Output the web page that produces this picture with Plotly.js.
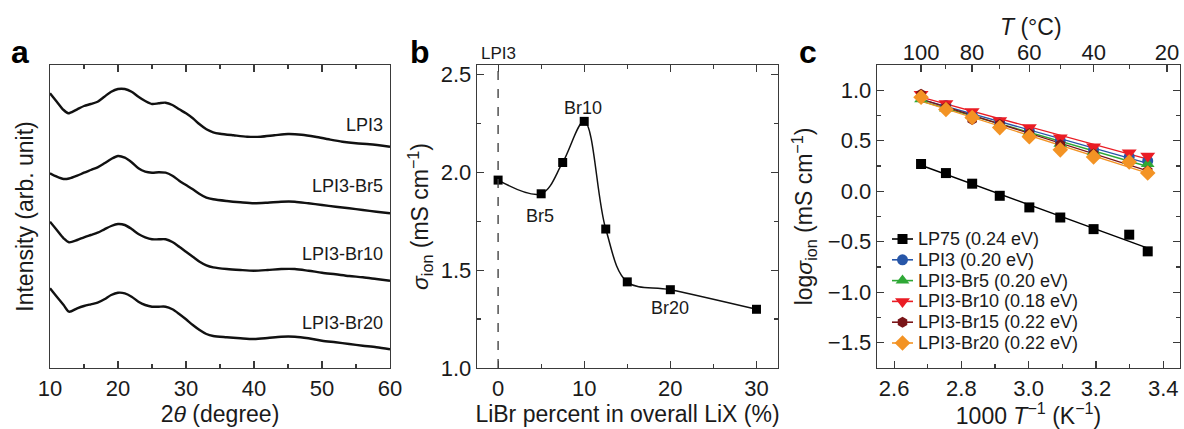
<!DOCTYPE html>
<html>
<head>
<meta charset="utf-8">
<script src="https://cdn.plot.ly/plotly-3.0.1.min.js"></script>
<style>html,body{margin:0;padding:0;background:#fff;}#chart{width:1184px;height:429px;}</style>
</head>
<body>
<div id="chart"></div>
<script>
// ---------- Panel a: XRD patterns (2θ in degree, intensity in arb. unit) ----------
const xrdAngleTop = [10,11,12,12.7,13,14,15,16,17,18,19,20,21,22,23,24,25,26,27,28,29,30,31,32,33,34,35,37,39,41,43,45,47,49,51,53,55,57,60];
const intLPI3 = [274.7,266.3,258,254.7,255.3,258.7,262,264,266.3,271.3,276.3,279,279,276.3,271.3,267,264,264.7,265.3,263,258.7,254.7,249.7,243.7,238.7,235.7,234.3,232.7,231.3,231.3,232.7,234,233.3,231.3,228.7,226.3,224.7,223.7,221.3];
const xrdAngle = [10,11,12,12.8,14,15,16,17,18,19,20,21,22,23,24,25,26,27,28,29,30,31,32,33,34,36,38,40,42,44,46,48,50,52,54,56,58,60];
const intBr5 = [194.7,191.3,189,189.5,192.3,195.3,198,200.7,204.7,209,212,210.3,205.7,199.7,196.3,195.3,195.7,195.3,192.3,187.3,183,178.7,174,170.3,168.7,167,165.7,164.7,165.3,166.3,166.3,164.7,163,161.3,159.7,158,156.3,154.7];
const intBr10 = [146.3,138,129.7,125.7,128,130.7,133,135.3,138.7,142,144,143,139,134,130.7,128.7,128.7,128.7,126,121.3,116.3,111.3,106.3,102.7,100.7,99,98,97.3,98,99,99,97.3,95.3,93.7,92,90.7,89,87.3];
const intBr20 = [79.7,71.3,63,56.3,59.7,62,63.7,65.3,68.7,73,75.3,74.7,71.3,66.3,63,61.3,61.3,61.3,58.7,54,48.7,43,38,34,32,30.7,29.7,29,30,31.3,31.3,29.7,27.3,25.7,24,22.3,20.7,18.7];
const xrdLabels = ["LPI3", "LPI3-Br5", "LPI3-Br10", "LPI3-Br20"];

// ---------- Panel b: conductivity vs LiBr fraction ----------
const librPercent = [0, 5, 7.5, 10, 12.5, 15, 20, 30];
const sigmaIon = [1.96, 1.89, 2.05, 2.26, 1.71, 1.44, 1.40, 1.30];

// ---------- Panel c: Arrhenius plot ----------
const invT = [2.680, 2.754, 2.832, 2.914, 3.002, 3.094, 3.193, 3.299, 3.354];
const logLP75 = [0.27, 0.18, 0.075, -0.045, -0.16, -0.26, -0.375, -0.43, -0.595];
const logLPI3 = [0.93, 0.85, 0.76, 0.68, 0.60, 0.50, 0.41, 0.34, 0.30];
const logBr5 = [0.91, 0.82, 0.75, 0.66, 0.58, 0.47, 0.39, 0.30, 0.27];
const logBr10 = [0.96, 0.87, 0.79, 0.70, 0.63, 0.53, 0.44, 0.38, 0.35];
const logBr15 = [0.96, 0.83, 0.71, 0.66, 0.57, 0.46, 0.37, 0.29, 0.20];
const logBr20 = [0.93, 0.81, 0.73, 0.63, 0.54, 0.41, 0.34, 0.29, 0.18];
const seriesNames = ["LP75 (0.24 eV)", "LPI3 (0.20 eV)", "LPI3-Br5 (0.20 eV)", "LPI3-Br10 (0.18 eV)", "LPI3-Br15 (0.22 eV)", "LPI3-Br20 (0.22 eV)"];
const topTempLabels = [100, 80, 60, 40, 20];
const topTempMinor = [90, 70, 50, 30];

const FONT = "Liberation Sans, Arial, Helvetica, sans-serif";
const AX = "#3a3a3a";
const TXT = "#1a1a1a";
const traces = [];

// panel a
[[xrdAngleTop, intLPI3], [xrdAngle, intBr5], [xrdAngle, intBr10], [xrdAngle, intBr20]].forEach(function (p) {
  traces.push({type: "scatter", mode: "lines", x: p[0], y: p[1], xaxis: "x", yaxis: "y",
    line: {color: "#111", width: 2.4, shape: "spline", smoothing: 0.8}, showlegend: false, hoverinfo: "skip"});
});

// panel b
traces.push({type: "scatter", mode: "lines+markers", x: librPercent, y: sigmaIon, xaxis: "x2", yaxis: "y2",
  line: {color: "#111", width: 1.5, shape: "spline", smoothing: 1}, marker: {symbol: "square", size: 9, color: "#000"},
  showlegend: false});

// panel c
const seriesY = [logLP75, logLPI3, logBr5, logBr10, logBr15, logBr20];
const colors = ["#000000", "#2756a8", "#2ea836", "#ea1c24", "#7a1518", "#f39324"];
const symbols = ["square", "circle", "triangle-up", "triangle-down", "hexagon", "diamond"];
const sizes = [10, 11, 12, 13, 11, 12];
function fit(xs, ys) {
  const n = xs.length;
  let sx = 0, sy = 0, sxx = 0, sxy = 0;
  for (let i = 0; i < n; i++) { sx += xs[i]; sy += ys[i]; sxx += xs[i] * xs[i]; sxy += xs[i] * ys[i]; }
  const b = (n * sxy - sx * sy) / (n * sxx - sx * sx);
  const a = (sy - b * sx) / n;
  return [a + b * xs[0], a + b * xs[n - 1]];
}
seriesY.forEach(function (ys, i) {
  const f = fit(invT, ys);
  traces.push({type: "scatter", mode: "lines", x: [invT[0], invT[invT.length - 1]], y: f, xaxis: "x3", yaxis: "y3",
    line: {color: colors[i], width: 1.4}, showlegend: false, hoverinfo: "skip"});
});
seriesY.forEach(function (ys, i) {
  traces.push({type: "scatter", mode: "markers", x: invT, y: ys, xaxis: "x3", yaxis: "y3",
    name: seriesNames[i], marker: {symbol: symbols[i], size: sizes[i], color: colors[i]},
    showlegend: false});
});
// top temperature axis anchor trace (invisible)
const tempToInv = function (t) { return 1000 / (t + 273.15); };
traces.push({type: "scatter", mode: "markers", x: [tempToInv(topTempLabels[0])], y: [logLP75[0]], xaxis: "x4", yaxis: "y3",
  marker: {opacity: 0}, showlegend: false, hoverinfo: "skip"});

// custom legend (glyphs on a pixel-scaled overlay axis)
const LEG = {x0: 892, x1: 913, xText: 916, yTop: 239, dy: 20.8};
const legendAnnots = [];
seriesNames.forEach(function (nm, i) {
  const yy = LEG.yTop + i * LEG.dy;
  traces.push({type: "scatter", mode: "lines", x: [LEG.x0, LEG.x1], y: [yy, yy], xaxis: "x5", yaxis: "y5",
    line: {color: colors[i], width: 1.6}, showlegend: false, hoverinfo: "skip"});
  traces.push({type: "scatter", mode: "markers", x: [(LEG.x0 + LEG.x1) / 2], y: [yy], xaxis: "x5", yaxis: "y5",
    marker: {symbol: symbols[i], size: sizes[i], color: colors[i]}, showlegend: false, hoverinfo: "skip"});
  legendAnnots.push({text: nm, xref: "x5", yref: "y5", x: LEG.xText, y: yy, xanchor: "left", yanchor: "middle",
    showarrow: false, font: {family: FONT, size: 18, color: TXT}});
});

const W = 1184, H = 429;
const yDom = [(H - 368) / H, (H - 65) / H];
const tickFont = {family: FONT, size: 22, color: TXT};
const titleFont = {family: FONT, size: 23, color: TXT};
function baseAxis(extra) {
  return Object.assign({showgrid: false, zeroline: false, showline: true, linecolor: AX, linewidth: 1.3,
    ticks: "inside", ticklen: 7, tickwidth: 1.2, tickcolor: AX, tickfont: tickFont, automargin: false}, extra);
}
function ann(text, xref, yref, x, y, size, extra) {
  return Object.assign({text: text, xref: xref, yref: yref, x: x, y: y, xanchor: "center", yanchor: "middle",
    showarrow: false, font: {family: FONT, size: size, color: TXT}}, extra || {});
}

const layout = {
  width: W, height: H,
  margin: {l: 0, r: 0, t: 0, b: 0},
  paper_bgcolor: "#fff", plot_bgcolor: "rgba(0,0,0,0)",
  font: {family: FONT, color: TXT},
  showlegend: false,
  xaxis: baseAxis({domain: [50 / W, 390 / W], range: [10, 60], anchor: "y", dtick: 10, tick0: 10, mirror: "ticks",
    minor: {dtick: 5, ticks: "inside", ticklen: 4, tickcolor: AX},
    title: {text: "2<i>θ</i> (degree)", font: titleFont, standoff: 4}}),
  yaxis: baseAxis({domain: yDom, range: [0, 303], anchor: "x", ticks: "", showticklabels: false, mirror: true,
    title: {text: "Intensity (arb. unit)", font: titleFont, standoff: 8}}),
  xaxis2: baseAxis({domain: [477 / W, 778 / W], range: [-2.45, 32.5], anchor: "y2", dtick: 10, tick0: 0, mirror: "ticks",
    minor: {dtick: 5, ticks: "inside", ticklen: 4, tickcolor: AX},
    title: {text: "LiBr percent in overall LiX (%)", font: titleFont, standoff: 4}}),
  yaxis2: baseAxis({domain: yDom, range: [1.0, 2.548], anchor: "x2", dtick: 0.5, tick0: 1, tickformat: ".1f", mirror: "ticks",
    minor: {dtick: 0.25, ticks: "inside", ticklen: 4, tickcolor: AX},
    title: {text: "<i>σ</i><sub>ion</sub> (mS cm<sup>−1</sup>)", font: titleFont, standoff: 5}}),
  xaxis3: baseAxis({domain: [877 / W, 1180 / W], range: [2.549, 3.45], anchor: "y3", dtick: 0.2, tick0: 2.6, tickformat: ".1f", mirror: true,
    minor: {dtick: 0.1, ticks: "inside", ticklen: 4, tickcolor: AX},
    title: {text: "1000 <i>T</i><sup>−1</sup> (K<sup>−1</sup>)", font: titleFont, standoff: 4}}),
  yaxis3: baseAxis({domain: yDom, range: [-1.75, 1.25], anchor: "x3", dtick: 0.5, tick0: 0, tickformat: ".1f", mirror: "ticks",
    minor: {dtick: 0.25, ticks: "inside", ticklen: 4, tickcolor: AX},
    title: {text: "log<i>σ</i><sub>ion</sub> (mS cm<sup>−1</sup>)", font: titleFont, standoff: 8}}),
  xaxis4: baseAxis({overlaying: "x3", side: "top", anchor: "y3", range: [2.549, 3.45], showline: false,
    tickmode: "array", tickvals: topTempLabels.map(tempToInv), ticktext: topTempLabels.map(String),
    minor: {tickmode: "array", tickvals: topTempMinor.map(tempToInv), ticks: "inside", ticklen: 4, tickcolor: AX}}),
  xaxis5: {overlaying: "x3", range: [877, 1180], anchor: "y5", visible: false, fixedrange: true},
  yaxis5: {overlaying: "y3", range: [368, 65], anchor: "x5", visible: false, fixedrange: true},
  shapes: [
    {type: "line", xref: "x2", yref: "y2 domain", x0: 0, x1: 0, y0: 0, y1: 1,
      line: {color: "#444", width: 1.4, dash: "dash"}}
  ],
  annotations: [
    ann("<b>a</b>", "paper", "paper", 20 / W, (H - 52) / H, 32, {font: {family: FONT, size: 32, color: "#000"}}),
    ann("<b>b</b>", "paper", "paper", 420 / W, (H - 52) / H, 32, {font: {family: FONT, size: 32, color: "#000"}}),
    ann("<b>c</b>", "paper", "paper", 808 / W, (H - 52) / H, 32, {font: {family: FONT, size: 32, color: "#000"}}),
    ann("<i>T</i> (°C)", "paper", "paper", 1031 / W, (H - 27) / H, 23),
    ann("LPI3", "x2", "paper", 0, (H - 53) / H, 17),
    ann("Br5", "x2", "y2", 4.9, 1.775, 18),
    ann("Br10", "x2", "y2", 9.85, 2.33, 18),
    ann("Br20", "x2", "y2", 20, 1.305, 18),
    ann(xrdLabels[0], "x", "y", 59.3, 243, 18, {xanchor: "right"}),
    ann(xrdLabels[1], "x", "y", 59.3, 182, 18, {xanchor: "right"}),
    ann(xrdLabels[2], "x", "y", 59.3, 114, 18, {xanchor: "right"}),
    ann(xrdLabels[3], "x", "y", 59.3, 45, 18, {xanchor: "right"})
  ].concat(legendAnnots)
};

Plotly.newPlot("chart", traces, layout, {staticPlot: true, displayModeBar: false});
</script>
</body>
</html>
